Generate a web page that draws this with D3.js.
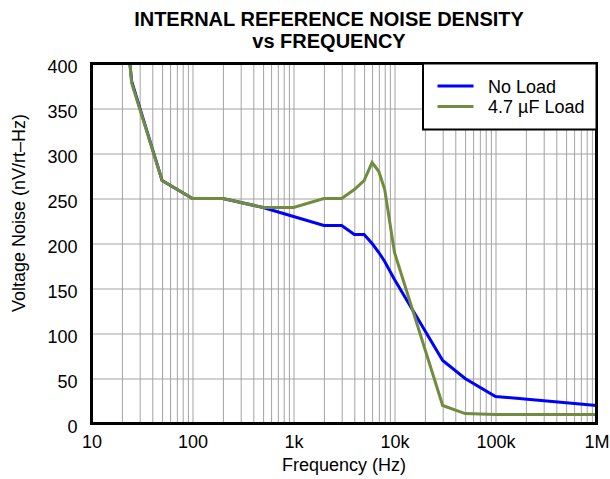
<!DOCTYPE html>
<html>
<head>
<meta charset="utf-8">
<script src="https://cdn.jsdelivr.net/npm/d3@7"></script>
<style>
  body { margin: 0; background: #fff; }
  svg { display: block; font-family: "Liberation Sans", Arial, sans-serif; }
</style>
</head>
<body>
<svg id="chart" width="610" height="479"></svg>
<script>
// data
const freqNoLoad = [24, 25, 50, 100, 200, 500, 1000, 2000, 3000, 4000, 5000, 6000, 7000, 8000, 10000, 30000, 50000, 100000, 1000000];
const noLoad     = [400, 380, 270, 250, 250, 240, 230, 220, 220, 210, 210, 200, 190, 180, 160, 70, 50, 30, 20];
const freqLoad   = [24, 25, 50, 100, 200, 500, 1000, 2000, 3000, 4000, 5000, 6000, 7000, 8000, 10000, 30000, 50000, 100000, 1000000];
const load47     = [400, 378, 270, 250, 250, 240, 240, 250, 250, 260, 270, 290, 280, 260, 190, 20, 11, 10, 10];

const xMajor = [10, 100, 1000, 10000, 100000, 1000000];
const xLabels = ["10", "100", "1k", "10k", "100k", "1M"];
const yTicks = [0, 50, 100, 150, 200, 250, 300, 350, 400];

const series = [
  { name: "No Load", color: "#0000ff", f: freqNoLoad, v: noLoad },
  { name: "4.7 \u00b5F Load", color: "#718c3e", f: freqLoad, v: load47 }
];

const svg = d3.select("#chart");
const pl = 91.5, pr = 596.5, pt = 63.5, pb = 423.5;

const x = d3.scaleLog().domain([10, 1e6]).range([pl, pr]);
const y = d3.scaleLinear().domain([0, 400]).range([pb, pt]);

// minor + major vertical grid
const xGrid = [];
for (let d = 10; d < 1e6; d *= 10) for (let k = 1; k < 10; k++) xGrid.push(d * k);
xGrid.push(1e6);

svg.append("g")
    .attr("transform", `translate(0,${pb})`)
    .call(d3.axisBottom(x).tickValues(xGrid).tickSize(-(pb - pt)).tickFormat(""))
    .call(g => g.select(".domain").remove())
    .call(g => g.selectAll("line").attr("stroke", "#a3a3a3").attr("stroke-width", 1));

svg.append("g")
    .attr("transform", `translate(${pl},0)`)
    .call(d3.axisLeft(y).tickValues(yTicks).tickSize(-(pr - pl)).tickFormat(""))
    .call(g => g.select(".domain").remove())
    .call(g => g.selectAll("line").attr("stroke", "#a3a3a3").attr("stroke-width", 1));

// tick labels
svg.append("g")
    .attr("transform", `translate(0,${pb})`)
    .call(d3.axisBottom(x).tickValues(xMajor).tickSize(0).tickPadding(11.5)
        .tickFormat((d, i) => xLabels[i]))
    .call(g => g.select(".domain").remove())
    .call(g => g.selectAll("text").attr("font-size", 18).attr("font-family", null).attr("fill", "#000"));

svg.append("g")
    .attr("transform", `translate(${pl},0)`)
    .call(d3.axisLeft(y).tickValues(yTicks).tickSize(0).tickPadding(14))
    .call(g => g.select(".domain").remove())
    .call(g => g.selectAll("text").attr("font-size", 18).attr("font-family", null)
        .attr("fill", "#000").attr("dy", "0.48em"));

// curves
const line = d3.line().x(d => x(d[0])).y(d => y(d[1]));
svg.append("defs").append("clipPath").attr("id", "clip")
  .append("rect").attr("x", pl).attr("y", pt).attr("width", pr - pl).attr("height", pb - pt);

series.forEach(s => {
  svg.append("path")
      .datum(d3.zip(s.f, s.v))
      .attr("clip-path", "url(#clip)")
      .attr("fill", "none")
      .attr("stroke", s.color)
      .attr("stroke-width", 3)
      .attr("d", line);
});

// frame
svg.append("rect")
    .attr("x", pl).attr("y", pt)
    .attr("width", pr - pl).attr("height", pb - pt)
    .attr("fill", "none").attr("stroke", "#000").attr("stroke-width", 3);

// legend
const lg = svg.append("g");
lg.append("rect")
    .attr("x", 423).attr("y", pt)
    .attr("width", pr - 423).attr("height", 66)
    .attr("fill", "#fff").attr("stroke", "#000").attr("stroke-width", 2);
series.forEach((s, i) => {
  const ly = 86 + i * 20.5;
  lg.append("line").attr("x1", 437.5).attr("x2", 473.5).attr("y1", ly).attr("y2", ly)
      .attr("stroke", s.color).attr("stroke-width", 3);
  lg.append("text").attr("x", 488).attr("y", ly + 6.5).attr("font-size", 18).text(s.name);
});

// titles
svg.append("text").attr("x", 329).attr("y", 25.5).attr("text-anchor", "middle")
    .attr("font-size", 20).attr("font-weight", "bold").text("INTERNAL REFERENCE NOISE DENSITY");
svg.append("text").attr("x", 329).attr("y", 47.5).attr("text-anchor", "middle")
    .attr("font-size", 20).attr("font-weight", "bold").text("vs FREQUENCY");

svg.append("text").attr("x", (pl + pr) / 2).attr("y", 471).attr("text-anchor", "middle")
    .attr("font-size", 18).text("Frequency (Hz)");
svg.append("text").attr("transform", "translate(25,213) rotate(-90)").attr("text-anchor", "middle")
    .attr("font-size", 18).text("Voltage Noise (nV/rt\u2013Hz)");
</script>
</body>
</html>
